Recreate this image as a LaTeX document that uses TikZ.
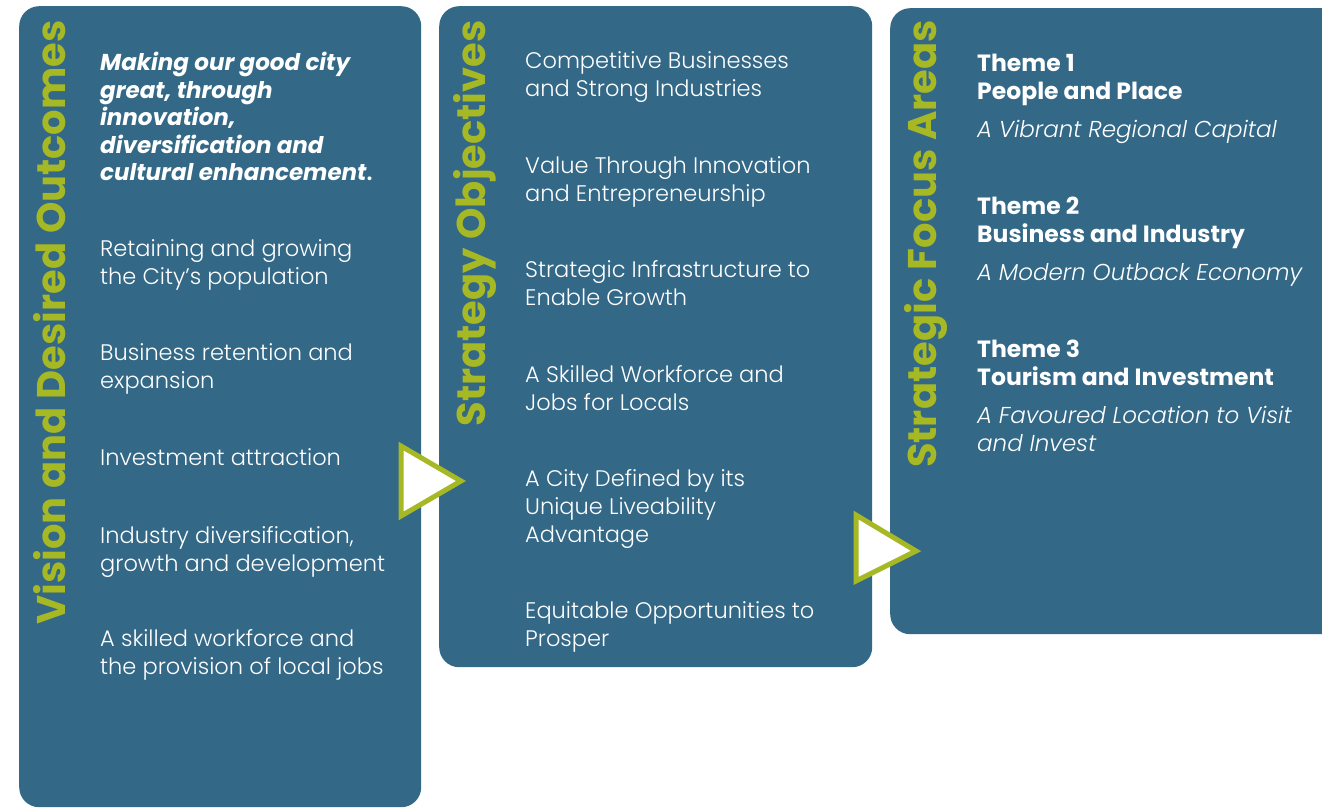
\documentclass[tikz,border=0pt]{standalone}
\usepackage{fontspec}
\setmainfont{Poppins}
\newfontfamily\lightfont{Poppins Light}[ItalicFont={Poppins Light Italic}]

\definecolor{panelblue}{RGB}{51,104,135}
\definecolor{titlegreen}{RGB}{166,184,36}

\begin{document}
\begin{tikzpicture}[x=1pt,y=-1pt]

 \tikzset{
      panel/.style={fill=panelblue,rounded corners=20pt,inner sep=0,anchor=north west},
      ptitle/.style={text=titlegreen,font=\bfseries\fontsize{40}{40}\selectfont,
        rotate=90,anchor=base east,inner sep=0},
      itemtxt/.style={text=white,font=\lightfont\fontsize{22.5}{28}\selectfont,align=left,
        anchor=north west,inner sep=0},
      themetxt/.style={itemtxt,font=\bfseries\fontsize{23.5}{28}\selectfont},
      subtxt/.style={itemtxt,font=\lightfont\itshape\fontsize{23}{28}\selectfont},
      arrowtri/.style={draw=titlegreen,fill=white,line width=5pt,line join=miter},
    }

 \clip (0,0) rectangle (1322,808);

 %% the three panels.
 \node[panel,minimum width=402pt,minimum height=801pt] (vision) at (19,6) {};
 \node[panel,minimum width=433pt,minimum height=661pt] (objectives) at (439,6) {};
 \node[panel,minimum width=470pt,minimum height=626pt] (focus) at (890,8) {};

 %% titles, read upwards.
 \node[ptitle] (visiont) at (65,20) {Vision and Desired Outcomes};
 \node[ptitle] (objt) at (485,20) {Strategy Objectives};
 \node[ptitle] (focust) at (936,20) {Strategic Focus Areas};

 % first panel.
 \node[itemtxt,font=\bfseries\itshape\fontsize{23}{27.5}\selectfont] (vstate) at (100,52)
   {Making our good city\\great, through\\innovation,\\diversification and\\cultural enhancement{\lightfont\upshape.}};
 \node[itemtxt] (v1) at (100,239) {Retaining and growing\\the City’s population};
 \node[itemtxt] (v2) at (100,343) {Business retention and\\expansion};
 \node[itemtxt] (v3) at (100,448) {Investment attraction};
 \node[itemtxt] (v4) at (100,526) {Industry diversification,\\growth and development};
 \node[itemtxt] (v5) at (100,629) {A skilled workforce and\\the provision of local jobs};

 % second panel.
 \node[itemtxt] (o1) at (525,51) {Competitive Businesses\\and Strong Industries};
 \node[itemtxt] (o2) at (525,156) {Value Through Innovation\\and Entrepreneurship};
 \node[itemtxt] (o3) at (525,260) {Strategic Infrastructure to\\Enable Growth};
 \node[itemtxt] (o4) at (525,365) {A Skilled Workforce and\\Jobs for Locals};
 \node[itemtxt] (o5) at (525,469) {A City Defined by its\\Unique Liveability\\Advantage};
 \node[itemtxt] (o6) at (525,601) {Equitable Opportunities to\\Prosper};

 % third panel.
 \node[themetxt] (t1) at (977,54) {Theme 1\\People and Place};
 \node[subtxt] (t1s) at (977,120) {A Vibrant Regional Capital};
 \node[themetxt] (t2) at (977,197) {Theme 2\\Business and Industry};
 \node[subtxt] (t2s) at (977,263) {A Modern Outback Economy};
 \node[themetxt] (t3) at (977,340) {Theme 3\\Tourism and Investment};
 \node[subtxt] (t3s) at (977,406) {A Favoured Location to Visit\\and Invest};

 %% arrows across the gaps.
 \filldraw[arrowtri] (401,446) -- (461,481) -- (401,516) -- cycle;
 \filldraw[arrowtri] (856,515) -- (916,551) -- (856,581) -- cycle;

\end{tikzpicture}
\end{document}
